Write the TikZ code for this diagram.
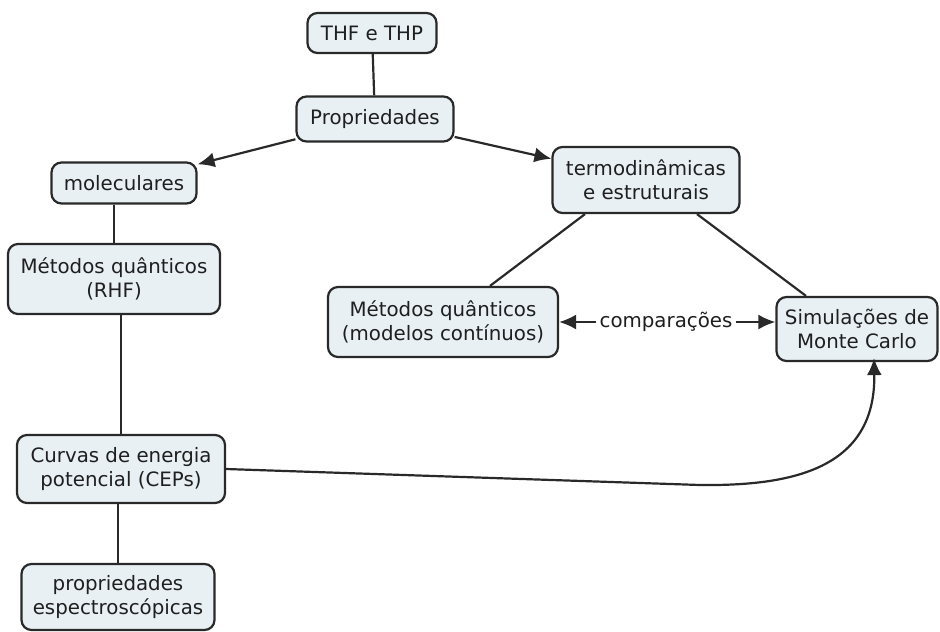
\documentclass[tikz,border=0pt]{standalone}
\usepackage{fontspec}
\setmainfont{DejaVu Sans}
\usetikzlibrary{arrows.meta}
\newlength{\du}
\setlength{\du}{1pt}
\definecolor{boxfill}{rgb}{0.910000, 0.941000, 0.957000}
\definecolor{boxline}{rgb}{0.160000, 0.160000, 0.160000}
\tikzset{
  concept/.style={draw=boxline, fill=boxfill, line width=2.2\du, rounded corners=10\du,
    align=center, inner sep=0pt, text=black!88},
  link/.style={draw=boxline, line width=2.2\du},
  linkarrow/.style={link, -{Latex[length=17pt,width=15pt]}}
}
\begin{document}
\begin{tikzpicture}[font=\fontsize{19.8}{24}\selectfont]
\pgftransformxscale{1.000000}
\pgftransformyscale{-1.000000}
\useasboundingbox (0\du,0\du) rectangle (940\du,632\du);
% concepts
\node[concept, minimum width=129\du, minimum height=40\du] (thf) at (372\du,33\du){THF e THP};
\node[concept, minimum width=157\du, minimum height=45\du] (prop) at (375\du,119\du){Propriedades};
\node[concept, minimum width=145\du, minimum height=41\du] (mol) at (124\du,183\du){moleculares};
\node[concept, minimum width=187\du, minimum height=66\du] (termo) at (646\du,180\du){termodinâmicas\\e estruturais};
\node[concept, minimum width=212\du, minimum height=70\du] (rhf) at (114\du,279\du){Métodos quânticos\\(RHF)};
\node[concept, minimum width=230\du, minimum height=70\du] (cont) at (443\du,322\du){Métodos quânticos\\(modelos contínuos)};
\node[concept, minimum width=161\du, minimum height=64\du] (monte) at (857\du,329\du){Simulações de\\Monte Carlo};
\node[concept, minimum width=208\du, minimum height=68\du] (cep) at (121\du,469\du){Curvas de energia\\potencial (CEPs)};
\node[concept, minimum width=193\du, minimum height=66\du] (esp) at (118\du,597\du){propriedades\\espectroscópicas};
% linking phrase
\node[inner sep=3\du, text=black!88] (cmp) at (666\du,322\du){comparações};
% links
\draw[link] (thf) -- (prop);
\draw[linkarrow] (prop) -- (mol);
\draw[linkarrow] (prop) -- (termo);
\draw[link] (rhf.north |- mol.south) -- (rhf.north);
\draw[link] ([xshift=-61\du]termo.south) -- ([xshift=47\du]cont.north);
\draw[link] ([xshift=51\du]termo.south) -- ([xshift=-51\du]monte.north);
\draw[linkarrow] (cmp) -- (cmp -| cont.east);
\draw[linkarrow] (cmp) -- (cmp -| monte.west);
\draw[link] (cep.north |- rhf.south) -- (cep.north);
\draw[link] (esp.north |- cep.south) -- (esp.north);
\draw[linkarrow] (cep.east) -- (700\du,485\du) .. controls (790\du,486\du) and (876\du,470\du) .. ([xshift=17\du,yshift=-4\du]monte.south);
\end{tikzpicture}
\end{document}
